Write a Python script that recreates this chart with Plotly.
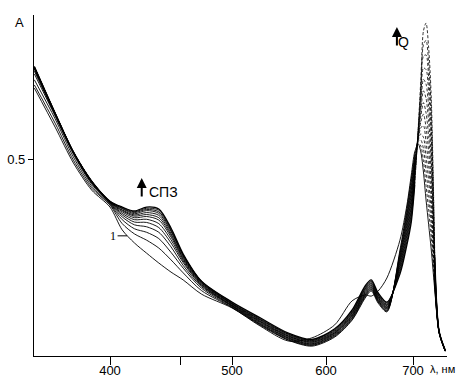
import numpy as np
import plotly.graph_objects as go

# ---- data (wavelength in nm, absorbance) ----
wavelength = [338, 355, 370, 385, 400, 410, 420, 430, 440, 450, 460, 475, 500, 530, 560, 585,
              610, 630, 645, 652, 660, 670, 685, 693, 698, 702, 706, 709, 712, 715, 718, 721,
              725, 730, 737]

curve_01 = [.680, .581, .490, .421, .378, .320, .287, .261, .236, .213, .193, .157, .122, .076, .038, .046,
            .079, .140, .155, .152, .165, .198, .294, .383, .459, .518, .538, .518, .467, .396, .333, .269,
            .168, .058, .012]
curve_02 = [.688, .591, .497, .426, .383, .336, .310, .294, .274, .244, .211, .166, .123, .078, .040, .025,
            .048, .091, .147, .165, .134, .112, .269, .375, .449, .511, .541, .533, .496, .433, .370, .301,
            .175, .059, .012]
curve_03 = [.701, .602, .505, .431, .385, .346, .323, .314, .298, .263, .223, .172, .124, .080, .041, .027,
            .050, .093, .150, .168, .137, .114, .263, .366, .440, .504, .545, .548, .526, .470, .407, .333,
            .182, .059, .013]
curve_04 = [.716, .609, .512, .436, .387, .353, .333, .328, .314, .277, .230, .176, .126, .081, .043, .028,
            .052, .096, .153, .170, .139, .116, .258, .358, .429, .497, .548, .564, .555, .506, .445, .365,
            .190, .060, .013]
curve_05 = [.723, .612, .515, .439, .388, .358, .340, .339, .326, .287, .237, .179, .127, .083, .045, .030,
            .054, .098, .155, .173, .141, .119, .252, .350, .420, .490, .552, .579, .585, .543, .482, .398,
            .197, .060, .013]
curve_06 = [.728, .613, .516, .440, .389, .362, .346, .347, .336, .295, .241, .181, .128, .085, .046, .031,
            .056, .101, .158, .175, .143, .121, .247, .341, .410, .483, .555, .594, .614, .580, .520, .430,
            .205, .061, .013]
curve_07 = [.729, .614, .517, .441, .390, .366, .351, .354, .345, .302, .245, .183, .129, .087, .048, .033,
            .058, .103, .161, .178, .146, .123, .241, .333, .400, .476, .558, .609, .643, .617, .557, .462,
            .212, .061, .014]
curve_08 = [.731, .615, .517, .442, .391, .369, .355, .359, .351, .307, .248, .185, .131, .088, .050, .035,
            .059, .105, .164, .180, .148, .125, .236, .324, .390, .469, .562, .624, .673, .654, .595, .494,
            .219, .061, .014]
curve_09 = [.732, .616, .518, .443, .391, .371, .358, .364, .357, .311, .251, .186, .132, .090, .051, .036,
            .061, .108, .167, .183, .150, .128, .230, .315, .380, .462, .565, .640, .702, .690, .632, .526,
            .227, .062, .014]
curve_10 = [.733, .616, .518, .443, .392, .374, .361, .369, .362, .316, .254, .188, .133, .092, .053, .038,
            .063, .110, .170, .185, .153, .130, .225, .307, .370, .455, .569, .655, .731, .727, .669, .558,
            .234, .062, .014]
curve_11 = [.734, .617, .518, .444, .392, .375, .364, .372, .366, .319, .256, .189, .134, .093, .055, .039,
            .065, .112, .172, .188, .155, .132, .219, .299, .360, .448, .572, .670, .761, .764, .707, .591,
            .242, .062, .015]
curve_12 = [.734, .617, .518, .444, .393, .377, .366, .375, .370, .322, .257, .190, .136, .095, .056, .041,
            .067, .115, .175, .190, .157, .135, .214, .290, .350, .441, .575, .685, .790, .801, .744, .623,
            .249, .063, .015]
curve_13 = [.735, .617, .518, .444, .393, .378, .368, .378, .373, .325, .259, .190, .137, .097, .058, .042,
            .069, .117, .178, .193, .160, .137, .208, .282, .340, .434, .579, .701, .825, .845, .782, .655,
            .256, .063, .015]

curves = [curve_01, curve_02, curve_03, curve_04, curve_05, curve_06, curve_07,
          curve_08, curve_09, curve_10, curve_11, curve_12, curve_13]

x_tick_nm = [400, 458, 500, 600, 700]
x_tick_text = ["400", "", "500", "600", "700"]
y_tick_vals = [0.5]
y_tick_text = ["0.5"]

# wavelength range drawn with broken (dashed) strokes in the Q band, as in the scan
Q_DASH_FROM = 702
Q_DASH_TO = 725

# non-uniform wavelength axis of the original figure
SCALE_NM = [300, 400, 500, 600, 700, 800]
SCALE_POS = [-1.22, 0.0, 1.22, 2.16, 3.03, 3.90]


def xpos(lam):
    return np.interp(lam, SCALE_NM, SCALE_POS)


FONT = "Liberation Sans, Arial, sans-serif"
lam = np.array(wavelength)

fig = go.Figure()
for i, c in enumerate(curves):
    c = np.array(c)
    w = 1.3 if i == len(curves) - 1 else 0.9
    if i == 0:
        segs = [(lam >= 0, "solid")]
    else:
        segs = [(lam <= Q_DASH_FROM, "solid"),
                ((lam >= Q_DASH_FROM) & (lam <= Q_DASH_TO), "3px,2px"),
                (lam >= Q_DASH_TO, "solid")]
    for mask, dash in segs:
        fig.add_trace(go.Scatter(
            x=xpos(lam[mask]), y=c[mask], mode="lines",
            line=dict(color="black", width=w if dash == "solid" else 0.8, dash=dash,
                      shape="spline", smoothing=0.8),
            showlegend=False, hoverinfo="skip"))

fig.update_layout(
    width=461, height=381,
    margin=dict(l=34, r=14, t=15, b=25),
    paper_bgcolor="white", plot_bgcolor="white",
    font=dict(family=FONT, size=13, color="black"),
    xaxis=dict(range=[-0.76, 3.37], showgrid=False, zeroline=False, automargin=False,
               showline=True, linecolor="black", linewidth=1.2,
               ticks="outside", ticklen=8, tickwidth=1, tickcolor="black",
               ticklabelstandoff=-6,
               tickmode="array", tickvals=list(xpos(x_tick_nm)), ticktext=x_tick_text,
               tickfont=dict(size=13)),
    yaxis=dict(range=[0, 0.8655], showgrid=False, zeroline=False, automargin=False,
               showline=True, linecolor="black", linewidth=1.2,
               ticks="outside", ticklen=5, tickwidth=1, tickcolor="black",
               tickmode="array", tickvals=y_tick_vals, ticktext=y_tick_text,
               tickfont=dict(size=13)),
)

ann = []
ann.append(dict(xref="paper", yref="paper", x=-0.034, y=0.979, xanchor="center", yanchor="middle",
                text="A", showarrow=False, font=dict(size=13)))
ann.append(dict(xref="paper", yref="paper", x=0.988, y=-0.038, xanchor="center", yanchor="middle",
                text="λ, нм", showarrow=False, font=dict(size=11)))
# СПЗ arrow and label
ann.append(dict(x=float(xpos(426)), y=0.452, ax=0, ay=20, text="", showarrow=True,
                arrowhead=2, arrowsize=1, arrowwidth=2, arrowcolor="black"))
ann.append(dict(x=float(xpos(444)), y=0.416, text="СПЗ", showarrow=False, font=dict(size=14)))
# Q arrow and label
ann.append(dict(x=float(xpos(681.5)), y=0.835, ax=0, ay=20, text="", showarrow=True,
                arrowhead=2, arrowsize=1, arrowwidth=2, arrowcolor="black"))
ann.append(dict(x=float(xpos(689.5)), y=0.797, text="Q", showarrow=False, font=dict(size=14)))
# curve-1 label
ann.append(dict(x=float(xpos(414)), y=0.305, ax=-14, ay=0, text="1", showarrow=True,
                arrowhead=0, arrowwidth=1, arrowcolor="black",
                font=dict(family="Liberation Serif, Times New Roman, serif", size=12)))
fig.update_layout(annotations=ann)

fig.write_html("out.html")
